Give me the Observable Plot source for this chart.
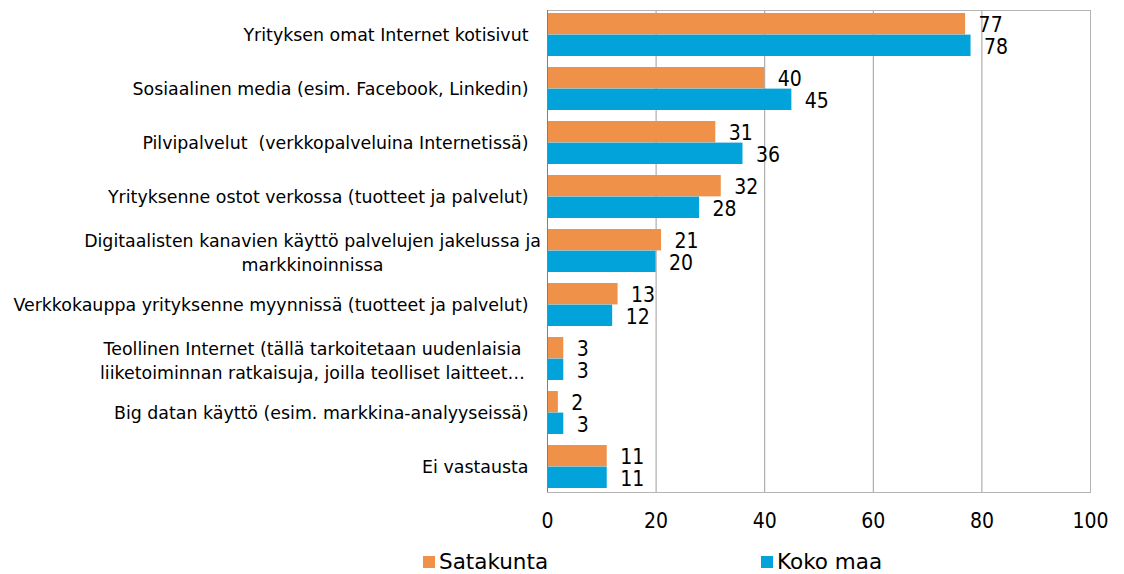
<!DOCTYPE html>
<html>
<head>
<meta charset="utf-8">
<script src="https://cdn.jsdelivr.net/npm/d3@7"></script>
<script src="https://cdn.jsdelivr.net/npm/@observablehq/plot@0.6"></script>
<style>
  body { margin: 0; background: #fff; }
  #chart { width: 1124px; }
  .legend { position: relative; height: 36px; font-family: "DejaVu Sans", sans-serif; font-size: 21.5px; color: #000; }
  .legend .item { position: absolute; top: 0; line-height: 36px; display: flex; align-items: center; }
  .legend .sw { width: 12px; height: 12px; margin-right: 4px; display: inline-block; }
</style>
</head>
<body>
<div id="chart"></div>
<script>
const categories = [
  "Yrityksen omat Internet kotisivut",
  "Sosiaalinen media (esim. Facebook, Linkedin)",
  "Pilvipalvelut  (verkkopalveluina Internetissä)",
  "Yrityksenne ostot verkossa (tuotteet ja palvelut)",
  "Digitaalisten kanavien käyttö palvelujen jakelussa ja\nmarkkinoinnissa",
  "Verkkokauppa yrityksenne myynnissä (tuotteet ja palvelut)",
  "Teollinen Internet (tällä tarkoitetaan uudenlaisia\nliiketoiminnan ratkaisuja, joilla teolliset laitteet…",
  "Big datan käyttö (esim. markkina-analyyseissä)",
  "Ei vastausta"
];
const series = ["Satakunta", "Koko maa"];
const satakunta = [77, 40, 31, 32, 21, 13, 3, 2, 11];
const kokoMaa = [78, 45, 36, 28, 20, 12, 3, 3, 11];
const xTicks = [0, 20, 40, 60, 80, 100];
const colors = ["#f0914a", "#02a3da"];

const data = [];
categories.forEach((c, i) => {
  data.push({category: c, series: series[0], value: satakunta[i]});
  data.push({category: c, series: series[1], value: kokoMaa[i]});
});

const width = 1124, height = 544;
const marginLeft = 547, marginRight = 34, marginTop = 10, marginBottom = 52;
const paddingInner = 0.2, paddingOuter = 0.06;
const band = d3.scaleBand().domain(categories).range([marginTop, height - marginBottom]).paddingInner(paddingInner).paddingOuter(paddingOuter);
const bw = band.bandwidth();

const singles = categories.filter(c => !c.includes("\n"));
const multis = categories.filter(c => c.includes("\n"));
const labelFont = "\"DejaVu Sans\", sans-serif";
const numFont = "\"DejaVu Sans Condensed\", \"DejaVu Sans\", sans-serif";

const chart = Plot.plot({
  width, height, marginLeft, marginRight, marginTop, marginBottom,
  style: {fontFamily: labelFont, background: "#fff", color: "#000"},
  x: {domain: [0, 100], ticks: xTicks},
  y: {domain: categories, paddingInner, paddingOuter},
  color: {domain: series, range: colors},
  marks: [
    Plot.gridX(xTicks, {stroke: "#9e9e9e", strokeOpacity: 1}),
    Plot.frame({stroke: "#b4b4b4"}),
    Plot.barX(data.filter(d => d.series === series[0]), {x: "value", y: "category", fill: "series", insetBottom: bw / 2}),
    Plot.barX(data.filter(d => d.series === series[1]), {x: "value", y: "category", fill: "series", insetTop: bw / 2}),
    Plot.ruleX([0], {stroke: "#808080"}),
    Plot.text(data.filter(d => d.series === series[0]), {x: "value", y: "category", text: d => String(d.value), dy: -bw / 4 + 1, dx: 13, textAnchor: "start", fontSize: 21, fontFamily: numFont, fill: "#000"}),
    Plot.text(data.filter(d => d.series === series[1]), {x: "value", y: "category", text: d => String(d.value), dy: bw / 4 + 1, dx: 13, textAnchor: "start", fontSize: 21, fontFamily: numFont, fill: "#000"}),
    Plot.axisX({ticks: xTicks, tickSize: 0, tickPadding: 21, fontSize: 21, fontFamily: numFont, label: null}),
    Plot.axisY(singles, {tickSize: 0, tickPadding: 19, fontSize: 17.4, label: null, textAnchor: "end"}),
    Plot.axisY(multis, {tickSize: 0, tickPadding: 19, fontSize: 17.4, label: null, textAnchor: "middle", dx: -216, lineHeight: 1.4})
  ]
});
document.getElementById("chart").appendChild(chart);

const legend = document.createElement("div");
legend.className = "legend";
const legendX = [423, 761];
series.forEach((s, i) => {
  const item = document.createElement("div");
  item.className = "item";
  item.style.left = legendX[i] + "px";
  const sw = document.createElement("span");
  sw.className = "sw";
  sw.style.background = colors[i];
  item.appendChild(sw);
  item.appendChild(document.createTextNode(s));
  legend.appendChild(item);
});
document.body.appendChild(legend);
</script>
</body>
</html>
